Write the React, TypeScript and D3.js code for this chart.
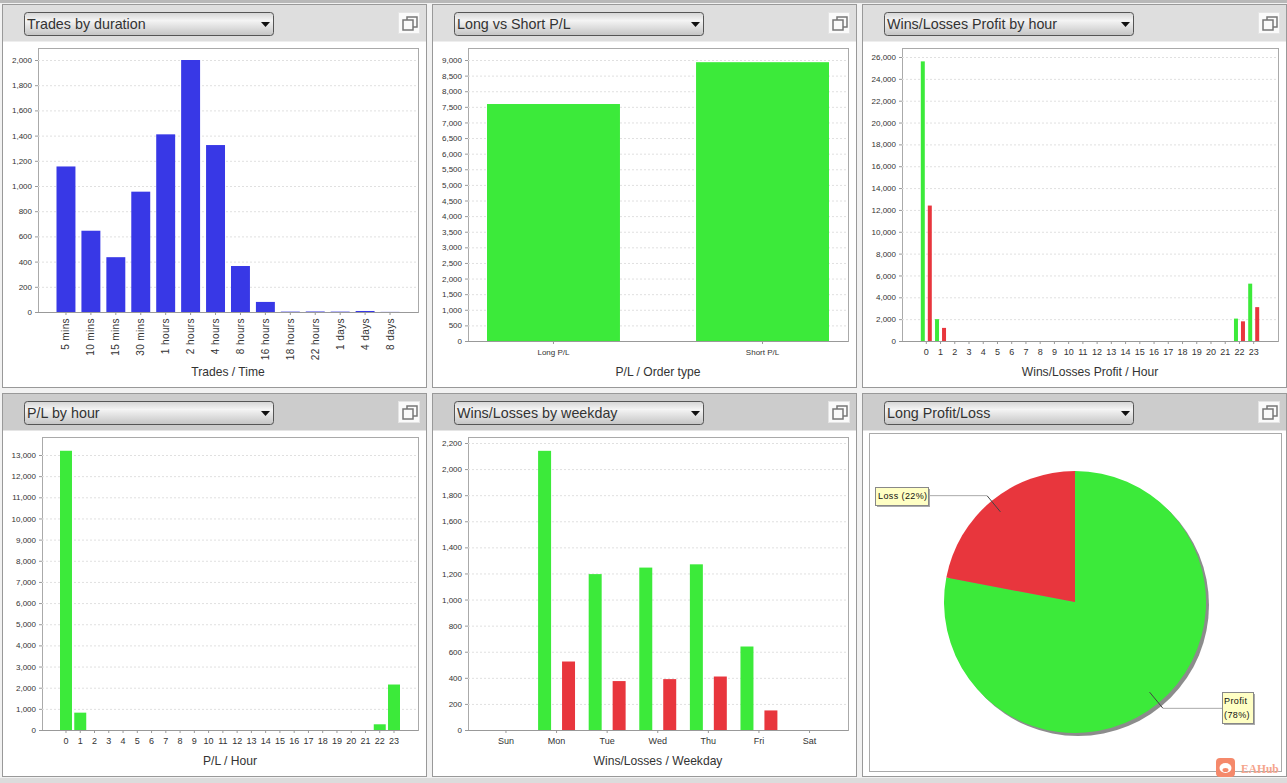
import { useEffect, useRef } from "react";
import * as d3 from "d3";

const GREEN = "#3cea3a";
const RED = "#e8363d";
const BLUE = "#3838e6";
const FONT = "'Liberation Sans', Arial, sans-serif";

const durationLabels = ["5 mins", "10 mins", "15 mins", "30 mins", "1 hours", "2 hours", "4 hours", "8 hours", "16 hours", "18 hours", "22 hours", "1 days", "4 days", "8 days"];
const durationTrades = [1155, 645, 435, 955, 1410, 2000, 1325, 365, 80, 3, 4, 3, 8, 1];

const orderTypes = ["Long P/L", "Short P/L"];
const orderPL = [7590, 8930];

const hours = d3.range(24).map(String);
const hourWins = [25600, 2000, 0, 0, 0, 0, 0, 0, 0, 0, 0, 0, 0, 0, 0, 0, 0, 0, 0, 0, 0, 0, 2050, 5250];
const hourLosses = [12400, 1200, 0, 0, 0, 0, 0, 0, 0, 0, 0, 0, 0, 0, 0, 0, 0, 0, 0, 0, 0, 0, 1800, 3100];
const hourPL = [13200, 820, 0, 0, 0, 0, 0, 0, 0, 0, 0, 0, 0, 0, 0, 0, 0, 0, 0, 0, 0, 0, 270, 2150];

const weekdays = ["Sun", "Mon", "Tue", "Wed", "Thu", "Fri", "Sat"];
const weekdayWins = [0, 2140, 1195, 1245, 1270, 640, 0];
const weekdayLosses = [0, 525, 375, 390, 410, 150, 0];

const pieLabels = ["Profit", "Loss"];
const pieValues = [78, 22];
const pieColors = [GREEN, RED];

const panels = [
  { x: 2, y: 4, title: "Trades by duration", head: "#dedede" },
  { x: 432, y: 4, title: "Long vs Short P/L", head: "#dedede" },
  { x: 862, y: 4, title: "Wins/Losses Profit by hour", head: "#dedede" },
  { x: 2, y: 393, title: "P/L by hour", head: "#cccccc" },
  { x: 432, y: 393, title: "Wins/Losses by weekday", head: "#cccccc" },
  { x: 862, y: 393, title: "Long Profit/Loss", head: "#cccccc" },
];

interface BarChart {
  box: [number, number, number, number];
  bars: [number, number];
  padding: number;
  innerPadding?: number;
  categories: string[];
  series: { values: number[]; color: string }[];
  tickStep: number;
  tickMax: number;
  yTop: number;
  xTitle: string;
  titleY: number;
  rotate?: boolean;
  xFont: number;
}

const charts: BarChart[] = [
  { box: [38, 48, 418, 312], bars: [56.5, 399.5], padding: 0.24, categories: durationLabels, series: [{ values: durationTrades, color: BLUE }], tickStep: 200, tickMax: 2000, yTop: 60, xTitle: "Trades / Time", titleY: 376, rotate: true, xFont: 10 },
  { box: [468, 48, 848, 341], bars: [487, 829], padding: 0.364, categories: orderTypes, series: [{ values: orderPL, color: GREEN }], tickStep: 500, tickMax: 9000, yTop: 60, xTitle: "P/L / Order type", titleY: 376, xFont: 8 },
  { box: [902, 48, 1278, 341], bars: [920.8, 1259.2], padding: 0.2275, innerPadding: 0.43, categories: hours, series: [{ values: hourWins, color: GREEN }, { values: hourLosses, color: RED }], tickStep: 2000, tickMax: 26000, yTop: 57, xTitle: "Wins/Losses Profit / Hour", titleY: 376, xFont: 9 },
  { box: [42, 437, 418, 730], bars: [60, 400], padding: 0.16, categories: hours, series: [{ values: hourPL, color: GREEN }], tickStep: 1000, tickMax: 13000, yTop: 455, xTitle: "P/L / Hour", titleY: 765, xFont: 9 },
  { box: [468, 437, 848, 730], bars: [487.5, 828], padding: 0.27, innerPadding: 0.458, categories: weekdays, series: [{ values: weekdayWins, color: GREEN }, { values: weekdayLosses, color: RED }], tickStep: 200, tickMax: 2200, yTop: 443, xTitle: "Wins/Losses / Weekday", titleY: 765, xFont: 9 },
];

function drawPanel(svg: d3.Selection<SVGSVGElement, unknown, null, undefined>, p: (typeof panels)[number]) {
  const g = svg.append("g").attr("transform", `translate(${p.x},${p.y})`);
  g.append("rect").attr("x", 0.5).attr("y", 0.5).attr("width", 424).attr("height", 383).attr("fill", "#fff").attr("stroke", "#999");
  g.append("rect").attr("x", 1).attr("y", 1).attr("width", 423).attr("height", 36.5).attr("fill", p.head);
  g.append("rect").attr("x", 22.5).attr("y", 8.5).attr("width", 249).attr("height", 23).attr("rx", 3).attr("fill", "url(#select-grad)").attr("stroke", "#555");
  g.append("text").attr("x", 25).attr("y", 25).attr("font-size", 14.3).attr("font-family", FONT).attr("fill", "#333").text(p.title);
  g.append("path").attr("d", "M259,18h9l-4.5,5z").attr("fill", "#111");
  g.append("rect").attr("x", 396.5).attr("y", 8.5).attr("width", 21).attr("height", 21).attr("fill", "#fafafa").attr("stroke", "#e4e4e4");
  g.append("rect").attr("x", 405).attr("y", 13).attr("width", 10).attr("height", 10).attr("fill", "#fafafa").attr("stroke", "#777").attr("stroke-width", 1.5);
  g.append("rect").attr("x", 401).attr("y", 16).attr("width", 10).attr("height", 10).attr("fill", "#fafafa").attr("stroke", "#777").attr("stroke-width", 1.5);
}

function drawBars(svg: d3.Selection<SVGSVGElement, unknown, null, undefined>, c: BarChart) {
  const [x0, y0, x1, y1] = c.box;
  const g = svg.append("g");
  g.append("rect").attr("x", x0 + 0.5).attr("y", y0 + 0.5).attr("width", x1 - x0).attr("height", y1 - y0).attr("fill", "#fff").attr("stroke", "#aaa");

  const y = d3.scaleLinear().domain([0, c.tickMax]).range([y1, c.yTop]);
  const ticks = d3.range(0, c.tickMax + 1, c.tickStep);

  const grid = g.append("g").attr("transform", `translate(${x0},0)`).call(d3.axisLeft(y).tickValues(ticks.slice(1)).tickSize(-(x1 - x0 - 2)).tickFormat(() => ""));
  grid.select(".domain").remove();
  grid.selectAll("line").attr("stroke", "#e0e0e0").attr("stroke-dasharray", "2,2");

  const yAxis = g.append("g").attr("transform", `translate(${x0},0)`).call(d3.axisLeft(y).tickValues(ticks).tickSize(3).tickPadding(3).tickFormat((d) => d3.format(",")(Number(d))));
  yAxis.select(".domain").remove();
  yAxis.selectAll("line").attr("stroke", "#999");
  yAxis.selectAll("text").attr("font-size", 8).attr("font-family", FONT).attr("fill", "#333");

  const x = d3.scaleBand<string>().domain(c.categories).range(c.bars).paddingInner(c.padding).paddingOuter(0);
  const inner = d3.scaleBand<number>().domain(d3.range(c.series.length)).range([0, x.bandwidth()]).paddingInner(c.innerPadding ?? 0);

  c.series.forEach((s, i) => {
    g.append("g")
      .selectAll("rect")
      .data(s.values)
      .enter()
      .append("rect")
      .attr("x", (_, k) => x(c.categories[k])! + inner(i)!)
      .attr("y", (d) => y(d))
      .attr("width", inner.bandwidth())
      .attr("height", (d) => y1 - y(d))
      .attr("fill", s.color);
  });

  const xAxis = g.append("g").attr("transform", `translate(0,${y1})`).call(d3.axisBottom(x).tickSize(3).tickPadding(5));
  xAxis.select(".domain").attr("stroke", "#999").attr("d", `M${x0},0.5H${x1}`);
  xAxis.selectAll("line").attr("stroke", "#999");
  const labels = xAxis.selectAll("text").attr("font-size", c.xFont).attr("font-family", FONT).attr("fill", "#333");
  if (c.rotate) {
    labels.attr("transform", "rotate(-90)").attr("text-anchor", "end").attr("x", -6).attr("y", 0).attr("dy", "0.35em").attr("letter-spacing", 0.4);
  }

  g.append("text").attr("x", (x0 + x1) / 2).attr("y", c.titleY).attr("text-anchor", "middle").attr("font-size", 12.1).attr("font-family", FONT).attr("fill", "#333").text(c.xTitle);
}

function drawPie(svg: d3.Selection<SVGSVGElement, unknown, null, undefined>) {
  const g = svg.append("g");
  g.append("rect").attr("x", 869.5).attr("y", 433.5).attr("width", 412).attr("height", 338).attr("fill", "#fff").attr("stroke", "#aaa");

  const cx = 1075;
  const cy = 602;
  const r = 131;
  g.append("circle").attr("cx", cx + 3).attr("cy", cy + 3).attr("r", r).attr("fill", "#8c8c8c");

  const arcs = d3.pie<number>().sort(null)(pieValues);
  const arc = d3.arc<d3.PieArcDatum<number>>().innerRadius(0).outerRadius(r);
  const pg = g.append("g").attr("transform", `translate(${cx},${cy})`);
  pg.selectAll("path").data(arcs).enter().append("path").attr("d", arc).attr("fill", (_, i) => pieColors[i]);

  const boxes = [
    { x: 1222, y: 692, w: 31, h: 31 },
    { x: 875, y: 487, w: 53, h: 18 },
  ];
  arcs.forEach((a, i) => {
    const mid = (a.startAngle + a.endAngle) / 2;
    const pt = (rad: number): [number, number] => [cx + Math.sin(mid) * rad, cy - Math.cos(mid) * rad];
    const [ax, ay] = pt(117);
    const [ex, ey] = pt(138);
    const b = boxes[i];
    const edge = i === 0 ? b.x : b.x + b.w;
    g.append("path").attr("d", `M${ax},${ay}L${ex},${ey}`).attr("stroke", "#444").attr("fill", "none");
    g.append("path").attr("d", `M${ex},${ey}H${edge}`).attr("stroke", "#aaa").attr("fill", "none");
    g.append("rect").attr("x", b.x + 2).attr("y", b.y + 2).attr("width", b.w).attr("height", b.h).attr("fill", "#aaa");
    g.append("rect").attr("x", b.x + 0.5).attr("y", b.y + 0.5).attr("width", b.w).attr("height", b.h).attr("fill", "#ffffc4").attr("stroke", "#888");
    const t = g.append("text").attr("font-size", 9).attr("font-family", FONT).attr("fill", "#111").attr("letter-spacing", 0.4);
    const pct = `(${pieValues[i]}%)`;
    if (i === 0) {
      t.append("tspan").attr("x", b.x + 2).attr("y", b.y + 12).text(pieLabels[i]);
      t.append("tspan").attr("x", b.x + 2).attr("y", b.y + 26).text(pct);
    } else {
      t.append("tspan").attr("x", b.x + 3).attr("y", b.y + 12).text(`${pieLabels[i]} ${pct}`);
    }
  });
}

export default function App() {
  const svgRef = useRef<SVGSVGElement>(null);

  useEffect(() => {
    if (!svgRef.current) return;
    document.body.style.margin = "0";
    const svg = d3.select(svgRef.current);
    svg.selectAll("*").remove();

    const grad = svg.append("defs").append("linearGradient").attr("id", "select-grad").attr("x1", "0%").attr("y1", "0%").attr("x2", "0%").attr("y2", "100%");
    grad.append("stop").attr("offset", "0%").attr("stop-color", "#d4d4d4");
    grad.append("stop").attr("offset", "35%").attr("stop-color", "#f4f4f4");
    grad.append("stop").attr("offset", "100%").attr("stop-color", "#c4c4c4");

    svg.append("rect").attr("width", 1287).attr("height", 783).attr("fill", "#f2f2f2");
    svg.append("rect").attr("width", 1287).attr("height", 3).attr("fill", "#b8b8b8");
    svg.append("rect").attr("y", 778).attr("width", 1287).attr("height", 5).attr("fill", "#dcdcdc");

    panels.forEach((p) => drawPanel(svg, p));
    charts.forEach((c) => drawBars(svg, c));
    drawPie(svg);

    // watermark
    svg.append("rect").attr("x", 1216).attr("y", 758).attr("width", 19).attr("height", 19).attr("rx", 4).attr("fill", "#f5896b");
    svg.append("ellipse").attr("cx", 1225.5).attr("cy", 768).attr("rx", 6).attr("ry", 5).attr("fill", "#fff");
    svg.append("ellipse").attr("cx", 1225.5).attr("cy", 770).attr("rx", 3).attr("ry", 2).attr("fill", "#f5896b");
    svg.append("text").attr("x", 1241).attr("y", 773).attr("font-size", 11.5).attr("font-weight", "bold").attr("font-family", "'Liberation Serif', serif").attr("fill", "#f5a48c").text("EAHub");
  }, []);

  return <svg ref={svgRef} width={1287} height={783} style={{ display: "block" }} />;
}
